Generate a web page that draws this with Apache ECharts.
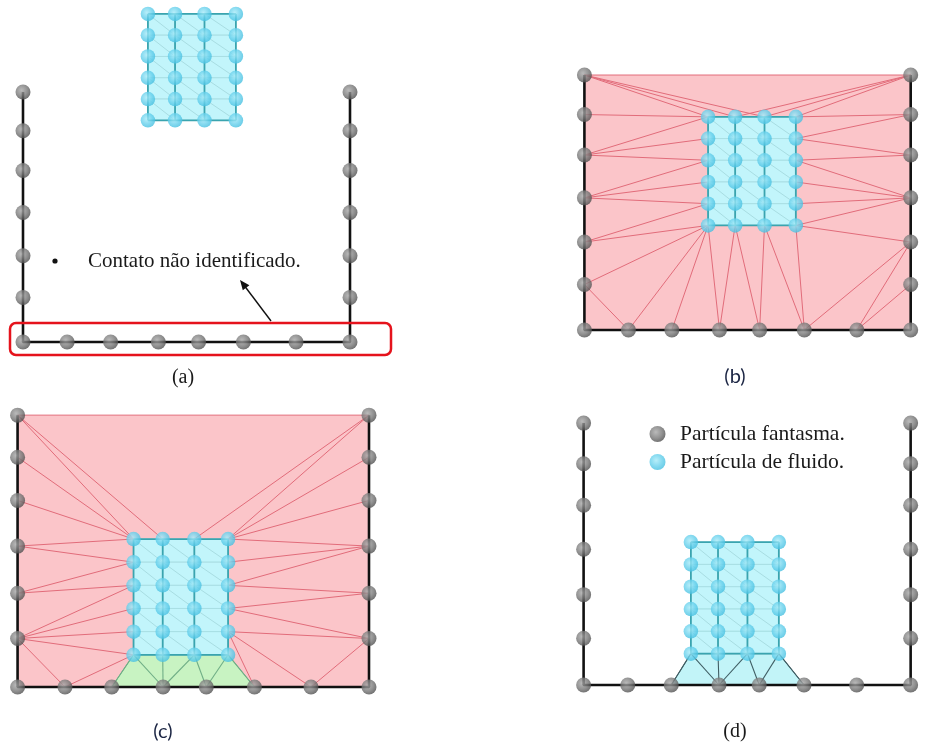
<!DOCTYPE html>
<html><head><meta charset="utf-8">
<script src="https://cdn.jsdelivr.net/npm/echarts@6/dist/echarts.min.js"></script>
<style>html,body{margin:0;background:#fff}#c{width:927px;height:747px}</style>
</head><body><div id="c"></div>
<script>
// Container: walls at x = 0 and x = 10, floor at y = 0
const wallHeights = [7.68, 6.49, 5.27, 3.98, 2.65, 1.37];          // L0..L5 and R0..R5, top to bottom
const floorX = [0, 1.35, 2.68, 4.14, 5.37, 6.74, 8.35, 10];         // B0..B7, left to right
const rightWallX = 10;

// Fluid block: 4 columns x 6 rows, offsets from its top-left particle
const fluidColOffsets = [0, 0.83, 1.73, 2.69];
const fluidRowOffsets = [0, -0.654, -1.308, -1.962, -2.616, -3.27];

// Top-left fluid particle in each stage
const fluidAnchorA = [3.82, 10.08];
const fluidAnchorB = [3.79, 6.42];
const fluidAnchorC = [3.30, 4.18];
const fluidAnchorD = [3.28, 4.19];

// Triangulation edges between ghost (L/R/B) and fluid (Frc) particles
const edgesB = [
  ['L0','R0'],
  ['L0','F00'],['L0','F01'],['L0','F02'],
  ['R0','F01'],['R0','F02'],['R0','F03'],
  ['L1','F00'],
  ['L2','F00'],['L2','F10'],['L2','F20'],
  ['L3','F20'],['L3','F30'],['L3','F40'],
  ['L4','F40'],['L4','F50'],
  ['L5','F50'],['L5','B1'],
  ['F50','B1'],['F50','B2'],['F50','B3'],
  ['F51','B3'],['F51','B4'],
  ['F52','B4'],['F52','B5'],
  ['F53','B5'],
  ['R1','F03'],['R1','F13'],
  ['R2','F13'],['R2','F23'],
  ['R3','F23'],['R3','F33'],['R3','F43'],['R3','F53'],
  ['R4','F53'],['R4','B5'],['R4','B6'],
  ['R5','B6']
];
const edgesC = [
  ['L0','R0'],
  ['L0','F00'],['L0','F01'],
  ['L1','F00'],['L2','F00'],
  ['L3','F00'],['L3','F10'],
  ['L4','F10'],['L4','F20'],
  ['L5','F20'],['L5','F30'],['L5','F40'],['L5','F50'],['L5','B1'],
  ['F50','B1'],
  ['R0','F02'],['R0','F03'],
  ['R1','F03'],['R2','F03'],
  ['R3','F03'],['R3','F13'],['R3','F23'],
  ['R4','F23'],['R4','F33'],
  ['R5','F33'],['R5','F43'],['R5','B6'],
  ['F43','B5'],['F43','B6']
];
// Contact region under the fluid (stages c and d)
const contactPolygon = ['F50','F51','F52','F53','B5','B4','B3','B2'];
const contactEdges = [['F50','B2'],['F50','B3'],['F51','B3'],['F52','B3'],['F52','B4'],['F53','B4'],['F53','B5']];

const ghostIds = ['L0','L1','L2','L3','L4','L5','B0','B1','B2','B3','B4','B5','B6','B7','R5','R4','R3','R2','R1','R0'];

const GHOST_NAME = 'Partícula fantasma.';
const FLUID_NAME = 'Partícula de fluido.';

// Panel layout: pixel origin of the floor-left corner and pixel size of one unit
const panels = [
  {x0: 23,   sx: 32.7,  y0: 342, sy: 32.55, yMax: 10.5, anchor: fluidAnchorA, edges: null,   contact: null},
  {x0: 585,  sx: 33.8,  y0: 330, sy: 33.2,  yMax: 8.2,  anchor: fluidAnchorB, edges: edgesB, contact: null},
  {x0: 17.5, sx: 35.15, y0: 687, sy: 35.4,  yMax: 8.2,  anchor: fluidAnchorC, edges: edgesC, contact: {fill: '#c8f3c2', stroke: '#6fae86'}},
  {x0: 584,  sx: 33.5,  y0: 685, sy: 34.1,  yMax: 8.2,  anchor: fluidAnchorD, edges: null,   contact: {fill: '#c2f4f8', stroke: '#3f5d63'}}
];

function pos(id, anchor) {
  const k = id[0];
  if (k === 'L') return [0, wallHeights[+id.slice(1)]];
  if (k === 'R') return [rightWallX, wallHeights[+id.slice(1)]];
  if (k === 'B') return [floorX[+id.slice(1)], 0];
  const r = +id[1], c = +id[2];
  return [anchor[0] + fluidColOffsets[c], anchor[1] + fluidRowOffsets[r]];
}

const ghostColor = {type: 'radial', x: 0.4, y: 0.38, r: 0.65,
  colorStops: [{offset: 0, color: '#a9a9a9'}, {offset: 0.6, color: '#777'}, {offset: 1, color: '#4d4d4d'}]};
const fluidColor = {type: 'radial', x: 0.42, y: 0.4, r: 0.62,
  colorStops: [{offset: 0, color: '#a6eaf8'}, {offset: 0.6, color: '#66d0ec'}, {offset: 1, color: '#45bfe0'}]};

const grids = [], xAxes = [], yAxes = [], series = [];

function segment(stroke, width) {
  return (params, api) => {
    const a = api.coord([api.value(0), api.value(1)]);
    const b = api.coord([api.value(2), api.value(3)]);
    return {type: 'line', shape: {x1: a[0], y1: a[1], x2: b[0], y2: b[1]},
      style: {stroke: stroke, lineWidth: width}};
  };
}

panels.forEach((p, i) => {
  grids.push({left: p.x0 - 0.5 * p.sx, width: 11 * p.sx, top: p.y0 - p.yMax * p.sy, height: (p.yMax + 0.5) * p.sy});
  xAxes.push({gridIndex: i, type: 'value', min: -0.5, max: 10.5, show: false});
  yAxes.push({gridIndex: i, type: 'value', min: -0.5, max: p.yMax, show: false});
  const ax = {coordinateSystem: 'cartesian2d', xAxisIndex: i, yAxisIndex: i, silent: true};
  const P = id => pos(id, p.anchor);

  // Triangulated background between walls and fluid
  if (p.edges) {
    const box = ['L0', 'R0', 'B7', 'B0'].map(P);
    series.push(Object.assign({type: 'custom', z: 1, data: box,
      renderItem: (params, api) => params.dataIndex === 0 ? {
        type: 'polygon', shape: {points: box.map(q => api.coord(q))},
        style: {fill: '#fbc5c9', stroke: null}
      } : null}, ax));
    series.push(Object.assign({type: 'custom', z: 2,
      data: p.edges.map(e => P(e[0]).concat(P(e[1]))),
      encode: {x: [0, 2], y: [1, 3]},
      renderItem: segment('#e26c7a', 1)}, ax));
  }

  // Contact region under the fluid
  if (p.contact) {
    const poly = contactPolygon.map(P);
    const st = p.contact;
    series.push(Object.assign({type: 'custom', z: 3, data: poly,
      renderItem: (params, api) => params.dataIndex === 0 ? {
        type: 'polygon', shape: {points: poly.map(q => api.coord(q))},
        style: {fill: st.fill, stroke: st.stroke, lineWidth: 1}
      } : null}, ax));
    series.push(Object.assign({type: 'custom', z: 3,
      data: contactEdges.map(e => P(e[0]).concat(P(e[1]))),
      encode: {x: [0, 2], y: [1, 3]},
      renderItem: segment(st.stroke, 1.1)}, ax));
  }

  // Fluid cells with their diagonals
  const cells = [];
  for (let r = 0; r < fluidRowOffsets.length - 1; r++)
    for (let c = 0; c < fluidColOffsets.length - 1; c++) cells.push([r, c]);
  series.push(Object.assign({type: 'custom', z: 4, data: cells,
    renderItem: (params, api) => {
      const r = api.value(0), c = api.value(1);
      const tl = api.coord(P('F' + r + c)), tr = api.coord(P('F' + r + (c + 1)));
      const br = api.coord(P('F' + (r + 1) + (c + 1))), bl = api.coord(P('F' + (r + 1) + c));
      return {type: 'group', children: [
        {type: 'polygon', shape: {points: [tl, tr, br, bl]}, style: {fill: '#c2f5fb', stroke: '#a9dfe4', lineWidth: 1}},
        {type: 'line', shape: {x1: tl[0], y1: tl[1], x2: br[0], y2: br[1]}, style: {stroke: '#a8dde2', lineWidth: 1}}
      ]};
    }}, ax));
  // Fluid block outline: columns, top and bottom rows
  const nR = fluidRowOffsets.length - 1, nC = fluidColOffsets.length - 1;
  const outline = [];
  fluidColOffsets.forEach((_, c) => outline.push(P('F0' + c).concat(P('F' + nR + c))));
  outline.push(P('F00').concat(P('F0' + nC)));
  outline.push(P('F' + nR + '0').concat(P('F' + nR + nC)));
  series.push(Object.assign({type: 'custom', z: 4, data: outline,
    encode: {x: [0, 2], y: [1, 3]},
    renderItem: segment('#3aa4af', 1.8)}, ax));

  // Container walls
  series.push(Object.assign({type: 'line', z: 5, symbol: 'none',
    data: [P('L0'), P('B0'), P('B7'), P('R0')],
    lineStyle: {color: '#111', width: 2.6}}, ax));

  // Ghost and fluid particles
  series.push(Object.assign({type: 'scatter', name: GHOST_NAME, z: 6, symbolSize: 15,
    data: ghostIds.map(P), itemStyle: {color: ghostColor}}, ax));
  const fluidPts = [];
  fluidRowOffsets.forEach((_, r) => fluidColOffsets.forEach((_, c) => fluidPts.push(P('F' + r + c))));
  series.push(Object.assign({type: 'scatter', name: FLUID_NAME, z: 6, symbolSize: 14.5,
    data: fluidPts, itemStyle: {color: fluidColor}}, ax));
});

const serif = '"Liberation Serif", "DejaVu Serif", serif';
const sans = 'Lato, "Open Sans", sans-serif';

const chart = echarts.init(document.getElementById('c'), null, {renderer: 'canvas'});
chart.setOption({
  animation: false,
  backgroundColor: '#fff',
  grid: grids, xAxis: xAxes, yAxis: yAxes, series: series,
  legend: {
    data: [GHOST_NAME, FLUID_NAME], orient: 'vertical', left: 644.5, top: 418,
    icon: 'circle', itemWidth: 35, itemHeight: 16, itemGap: 6, selectedMode: false,
    textStyle: {fontFamily: serif, fontSize: 21.5, color: '#1a1a1a', lineHeight: 22}
  },
  graphic: [
    {type: 'text', x: 183, y: 378, style: {text: '(a)', font: '20px ' + serif, fill: '#1a1a1a', textAlign: 'center', textVerticalAlign: 'middle'}},
    {type: 'text', x: 735, y: 377, style: {text: '(b)', font: '20px ' + sans, fill: '#1c2644', textAlign: 'center', textVerticalAlign: 'middle'}},
    {type: 'text', x: 163, y: 732, style: {text: '(c)', font: '20px ' + sans, fill: '#1c2644', textAlign: 'center', textVerticalAlign: 'middle'}},
    {type: 'text', x: 735, y: 732, style: {text: '(d)', font: '20px ' + serif, fill: '#1a1a1a', textAlign: 'center', textVerticalAlign: 'middle'}},
    {type: 'circle', shape: {cx: 55, cy: 261, r: 2.6}, style: {fill: '#111'}},
    {type: 'text', x: 88, y: 261, style: {text: 'Contato não identificado.', font: '21px ' + serif, fill: '#1a1a1a', textAlign: 'left', textVerticalAlign: 'middle'}},
    {type: 'rect', shape: {x: 10, y: 323, width: 381, height: 32, r: 6}, style: {fill: null, stroke: '#e5131c', lineWidth: 2.5}, z: 10},
    {type: 'line', shape: {x1: 271, y1: 321, x2: 245, y2: 286.5}, style: {stroke: '#111', lineWidth: 1.4}, z: 10},
    {type: 'polygon', shape: {points: [[240, 280], [249.4, 285.2], [242.8, 290.2]]}, style: {fill: '#111'}, z: 10}
  ]
});
</script>
</body></html>
